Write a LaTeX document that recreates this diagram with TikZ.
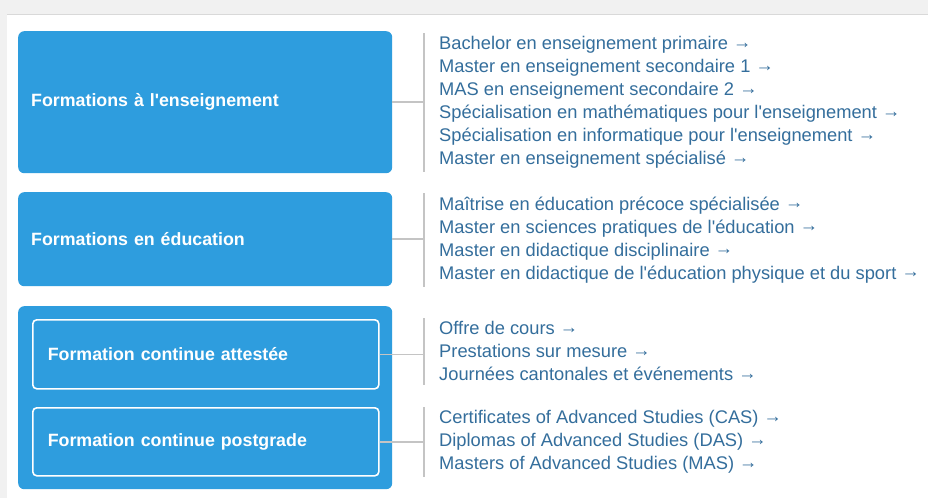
\documentclass[tikz,border=0pt]{standalone}
\usepackage{fontspec}
\setmainfont{Liberation Sans}[Ligatures=TeXOff]
\usepackage{tikz}
\usetikzlibrary{calc,positioning}
\definecolor{formblue}{RGB}{46,157,222}
\definecolor{listblue}{RGB}{52,110,156}
\definecolor{bargray}{RGB}{196,196,196}
\definecolor{pagegray}{RGB}{241,241,241}
\newcommand{\more}{ \raisebox{1.2pt}{→}}
\tikzset{
  bigbox/.style={fill=formblue,rounded corners=6pt,text=white,font=\fontsize{17.8}{20}\selectfont\bfseries,
    text width=348pt,align=left,inner xsep=13pt,inner ysep=0pt,anchor=north west},
  subbox/.style={draw=white,line width=1.6pt,rounded corners=4pt,text=white,font=\fontsize{17.8}{20}\selectfont\bfseries,
    text width=316pt,align=left,inner xsep=15pt,inner ysep=0pt,anchor=north west},
  listtxt/.style={text=listblue,font=\fontsize{18.3}{23}\selectfont,align=left,inner xsep=0pt,inner ysep=3.5pt,anchor=north west},
  bar/.style={draw=bargray,line width=1.6pt}
}

\begin{document}
\begin{tikzpicture}[x=1pt,y=-1pt]
        \useasboundingbox (0,0) rectangle (928,498);
        \fill[pagegray] (0,0) rectangle (928,498);
        \fill[white] (7,14) rectangle (928,498);
        \draw[gray!30] (7,14) -- (928,14);
        %%%
        \node[bigbox,minimum height=142pt] (b1) at (18,31) {Formations à l'enseignement};
        \node[bigbox,minimum height=94pt] (b2) at (18,192) {Formations en éducation};
        \node[bigbox,minimum height=183pt] (b3) at (18,306) {};
        \node[subbox,minimum height=69pt] (s1) at (32,319) {Formation continue attestée};
        \node[subbox,minimum height=68pt] (s2) at (32,407) {Formation continue postgrade};
        %%%
        \node[listtxt] (l1) at (439,33) {Bachelor en enseignement primaire\more\\
            Master en enseignement secondaire 1\more\\
            MAS en enseignement secondaire 2\more\\
            Spécialisation en mathématiques pour l'enseignement\more\\
            Spécialisation en informatique pour l'enseignement\more\\
            Master en enseignement spécialisé\more};
        \node[listtxt] (l2) at (439,193) {Maîtrise en éducation précoce spécialisée\more\\
            Master en sciences pratiques de l'éducation\more\\
            Master en didactique disciplinaire\more\\
            Master en didactique de l'éducation physique et du sport\more};
        \node[listtxt] (l3) at (439,318) {Offre de cours\more\\
            Prestations sur mesure\more\\
            Journées cantonales et événements\more};
        \node[listtxt] (l4) at (439,407) {Certificates of Advanced Studies (CAS)\more\\
            Diplomas of Advanced Studies (DAS)\more\\
            Masters of Advanced Studies (MAS)\more};
        %%%
        \draw[bar] ($(l1.north west)+(-15,0)$) coordinate (t1) -- ($(l1.south west)+(-15,0)$);
        \draw[bar] ($(l2.north west)+(-15,0)$) coordinate (t2) -- ($(l2.south west)+(-15,0)$);
        \draw[bar] ($(l3.north west)+(-15,0)$) coordinate (t3) -- ($(l3.south west)+(-15,0)$);
        \draw[bar] ($(l4.north west)+(-15,0)$) coordinate (t4) -- ($(l4.south west)+(-15,0)$);
        %%%
        \draw[bar] (b1.east) -- (b1.east -| t1);
        \draw[bar] (b2.east) -- (b2.east -| t2);
        \draw[bar] (s1.east) -- (s1.east -| t3);
        \draw[bar] (s2.east) -- (s2.east -| t4);
        %%%
    \end{tikzpicture}
\end{document}
